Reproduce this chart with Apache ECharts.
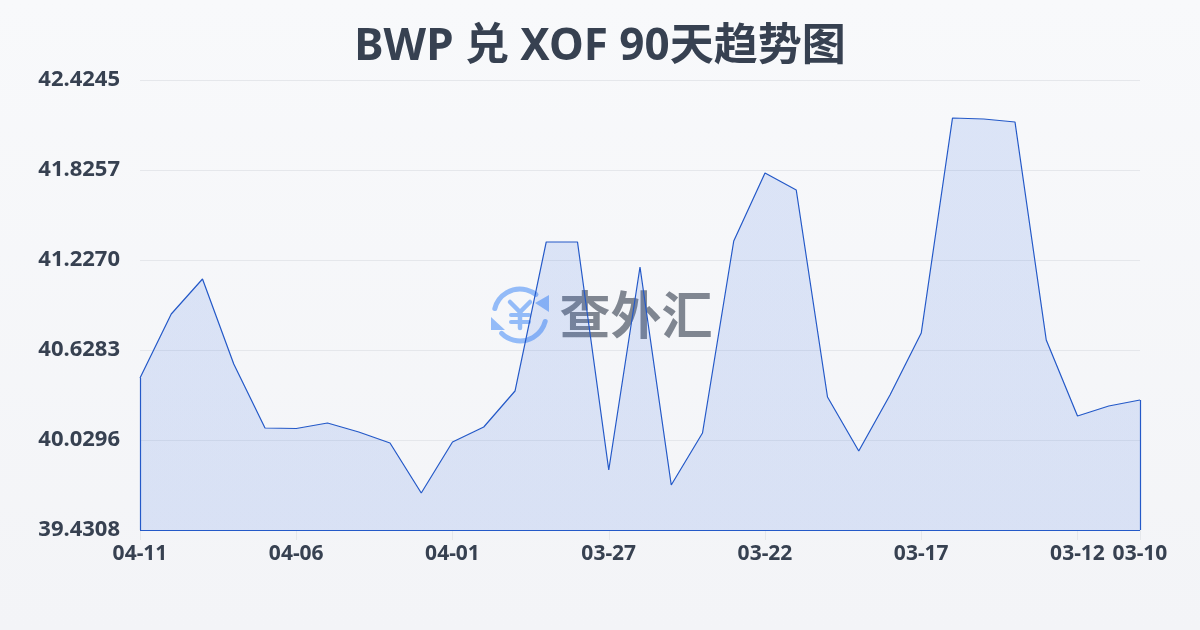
<!DOCTYPE html>
<html><head><meta charset="utf-8">
<style>html,body{margin:0;padding:0;width:1200px;height:630px;overflow:hidden}#c{width:1200px;height:630px}</style>
<script src="https://cdn.jsdelivr.net/npm/echarts@6/dist/echarts.min.js"></script>
</head><body><div id="c"></div>
<script>
const titleText = 'BWP 兑 XOF 90天趋势图';
const watermarkText = '查外汇';
const dates = ['04-11','04-10','04-09','04-08','04-07','04-06','04-05','04-04','04-03','04-02','04-01','03-31','03-30','03-29','03-28','03-27','03-26','03-25','03-24','03-23','03-22','03-21','03-20','03-19','03-18','03-17','03-16','03-15','03-14','03-13','03-12','03-11','03-10'];
const rates = [40.4420,40.8678,41.1006,40.5351,40.1094,40.1060,40.1426,40.0828,40.0096,39.6769,40.0162,40.1160,40.3555,41.3468,41.3468,39.8300,41.1805,39.7302,40.0761,41.3534,41.8058,41.6927,40.3156,39.9564,40.3289,40.7414,42.1717,42.1651,42.1451,40.6948,40.1892,40.2557,40.2957];
const yTicks = [39.4308,40.0296,40.6283,41.2270,41.8257,42.4245];
const xTickDates = ['04-11','04-06','04-01','03-27','03-22','03-17','03-12','03-10'];
const yMin = yTicks[0], yMax = yTicks[yTicks.length-1];
const LINE = '#2459c8', INK = '#374151', GRID = '#e5e7eb', ICON = '#93bbf8';
const sans = '"Noto Sans","Noto Sans CJK SC",sans-serif';
const showTick = (i, name) => xTickDates.includes(name);
const chart = echarts.init(document.getElementById('c'), null, {renderer:'canvas'});
chart.setOption({
  animation:false,
  backgroundColor:{type:'linear',x:0,y:0,x2:0,y2:1,colorStops:[{offset:0,color:'#f8f9fb'},{offset:1,color:'#f3f4f7'}]},
  title:{text:titleText,left:'center',top:20,textStyle:{fontFamily:sans,fontSize:44,fontWeight:'bold',color:INK}},
  grid:{left:140,right:60,top:80,bottom:100},
  xAxis:{type:'category',boundaryGap:false,data:dates,
    axisLine:{show:false},
    axisTick:{show:true,length:10,interval:showTick,lineStyle:{color:GRID,width:1}},
    axisLabel:{interval:showTick,hideOverlap:false,margin:14,fontFamily:sans,fontSize:21,fontWeight:'bold',color:INK},
    splitLine:{show:false}},
  yAxis:{type:'value',min:yMin,max:yMax,
    axisLine:{show:false},axisTick:{show:false,customValues:yTicks},
    axisLabel:{customValues:yTicks,margin:20,fontFamily:sans,fontSize:22,fontWeight:'bold',color:INK,formatter:v=>v.toFixed(4)},
    splitLine:{show:true,customValues:yTicks,lineStyle:{color:GRID,width:1}}},
  series:[{type:'line',data:rates,symbol:'none',smooth:false,z:3,
    lineStyle:{color:LINE,width:1.2},
    areaStyle:{origin:'start',color:{type:'linear',x:0,y:0,x2:0,y2:1,colorStops:[{offset:0,color:'rgba(50,105,225,0.2)'},{offset:1,color:'rgba(50,105,225,0.2)'}]}},
    markLine:{silent:true,symbol:'none',label:{show:false},lineStyle:{color:LINE,width:1.2,type:'solid'},
      data:[
        [{coord:[dates[0],yMin]},{coord:[dates[0],rates[0]]}],
        [{coord:[dates[dates.length-1],yMin]},{coord:[dates[dates.length-1],rates[rates.length-1]]}],
        [{coord:[dates[0],yMin]},{coord:[dates[dates.length-1],yMin]}]
      ]}
  }],
  graphic:[{type:'group',z:1,silent:true,children:[
    {type:'arc',shape:{cx:520,cy:315,r:26,startAngle:-2.89,endAngle:-0.91},style:{stroke:ICON,lineWidth:5,fill:null,lineCap:'round'}},
    {type:'arc',shape:{cx:520,cy:315,r:26,startAngle:0.25,endAngle:2.36},style:{stroke:ICON,lineWidth:5,fill:null,lineCap:'round'}},
    {type:'polygon',shape:{points:[[535,303],[549,295],[549,312]]},style:{fill:ICON}},
    {type:'polygon',shape:{points:[[491,317],[505,330],[491,330]]},style:{fill:ICON}},
    {type:'polyline',shape:{points:[[510,302],[520,312],[530,302]]},style:{stroke:ICON,lineWidth:4.5,fill:null,lineCap:'round'}},
    {type:'line',shape:{x1:520,y1:312,x2:520,y2:328},style:{stroke:ICON,lineWidth:4.5,lineCap:'round'}},
    {type:'line',shape:{x1:511,y1:315,x2:529,y2:315},style:{stroke:ICON,lineWidth:4,lineCap:'round'}},
    {type:'line',shape:{x1:511,y1:322,x2:529,y2:322},style:{stroke:ICON,lineWidth:4,lineCap:'round'}},
    {type:'text',style:{text:watermarkText,x:636,y:315,align:'center',verticalAlign:'middle',font:'bold 51px "Noto Sans CJK SC",sans-serif',fill:'rgba(55,65,81,0.62)'}}
  ]}]
});
</script></body></html>
